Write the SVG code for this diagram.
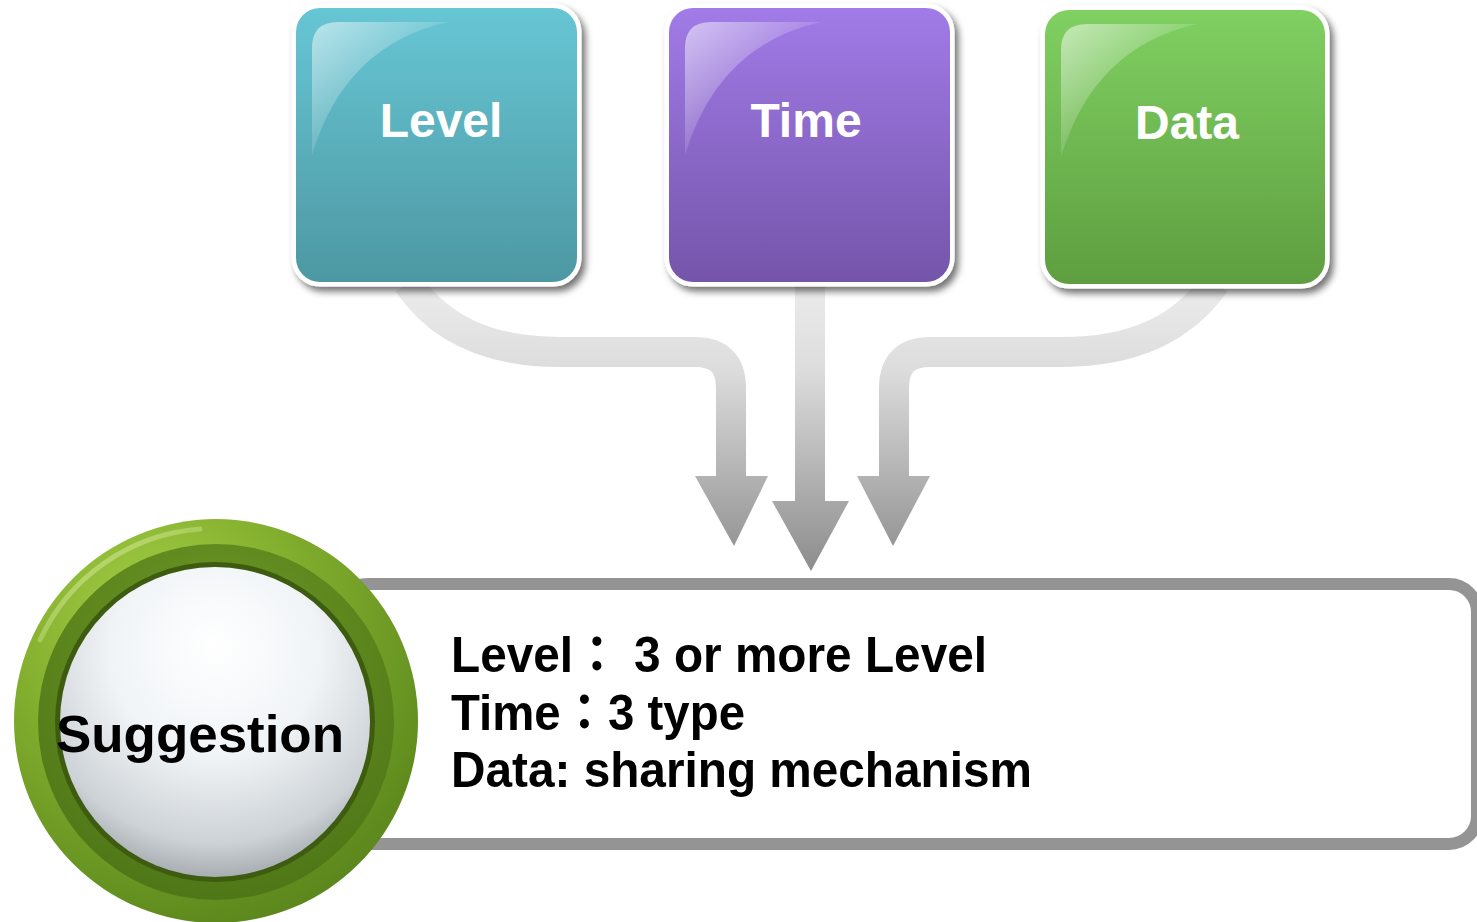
<svg xmlns="http://www.w3.org/2000/svg" width="1477" height="922" viewBox="0 0 1477 922">
<style>
.box-label{font-family:"Liberation Sans",Arial,sans-serif;font-weight:bold;font-size:48px;fill:#ffffff;text-anchor:middle}
.body{font-family:"Liberation Sans","Noto Sans CJK TC",Arial,sans-serif;font-weight:bold;font-size:50px;fill:#000000}
.shaft{fill:none;stroke:url(#arrowGrad);stroke-width:30}
.head{fill:url(#arrowGrad)}
.frame{fill:#ffffff;stroke:#ffffff;stroke-width:5;filter:url(#shadow)}
.gloss{fill:url(#glossGrad)}
</style>
<defs>
<filter id="shadow" x="-10%" y="-10%" width="130%" height="130%">
<feDropShadow dx="4" dy="5" stdDeviation="3.5" flood-color="#000" flood-opacity="0.55"/>
</filter>
<linearGradient id="arrowGrad" gradientUnits="userSpaceOnUse" x1="0" y1="285" x2="0" y2="572">
<stop offset="0" stop-color="#ececec"/>
<stop offset="0.3" stop-color="#dcdcdc"/>
<stop offset="1" stop-color="#8c8c8c"/>
</linearGradient>
<linearGradient id="gLevel" x1="0" y1="0" x2="0" y2="1">
<stop offset="0" stop-color="#67c6d4"/>
<stop offset="1" stop-color="#4d98a3"/>
</linearGradient>
<linearGradient id="gTime" x1="0" y1="0" x2="0" y2="1">
<stop offset="0" stop-color="#a17be7"/>
<stop offset="1" stop-color="#7455aa"/>
</linearGradient>
<linearGradient id="gData" x1="0" y1="0" x2="0" y2="1">
<stop offset="0" stop-color="#80d062"/>
<stop offset="1" stop-color="#5e9e40"/>
</linearGradient>
<linearGradient id="glossGrad" x1="0" y1="0" x2="1" y2="1">
<stop offset="0" stop-color="#ffffff" stop-opacity="0.55"/>
<stop offset="0.5" stop-color="#ffffff" stop-opacity="0.12"/>
<stop offset="1" stop-color="#ffffff" stop-opacity="0"/>
</linearGradient>
<radialGradient id="ringGrad" cx="0.35" cy="0.25" r="0.8">
<stop offset="0" stop-color="#a6d046"/>
<stop offset="0.5" stop-color="#7fab2c"/>
<stop offset="1" stop-color="#5a861c"/>
</radialGradient>
<radialGradient id="innerRingGrad" cx="0.5" cy="0.3" r="0.75">
<stop offset="0" stop-color="#6e9a26"/>
<stop offset="1" stop-color="#4d7416"/>
</radialGradient>
<radialGradient id="sphereGrad" cx="0.5" cy="0.3" r="0.75" fx="0.5" fy="0.25">
<stop offset="0" stop-color="#ffffff"/>
<stop offset="0.45" stop-color="#f0f4f7"/>
<stop offset="0.8" stop-color="#cdd2d6"/>
<stop offset="1" stop-color="#979da0"/>
</radialGradient>
<linearGradient id="ringHi" x1="0" y1="0" x2="1" y2="1">
<stop offset="0" stop-color="#e8f5b0" stop-opacity="0.9"/>
<stop offset="1" stop-color="#e8f5b0" stop-opacity="0"/>
</linearGradient>
</defs>

<g id="connectors">
<path class="shaft" d="M 408 283 C 440 330 490 352 560 352 L 695 352 Q 731 352 731 388 L 731 480"/>
<polygon class="head" points="695,476 768,476 734,546"/>
<path class="shaft" d="M 810 283 L 810 505"/>
<polygon class="head" points="772,501 849,501 811,571"/>
<path class="shaft" d="M 1215 283 C 1182 330 1132 352 1062 352 L 930 352 Q 894 352 894 388 L 894 480"/>
<polygon class="head" points="857,476 930,476 893,546"/>
</g>

<g id="node-level">
<rect class="frame" x="294" y="6" width="285" height="278" rx="26"/>
<rect x="296" y="8" width="281" height="274" rx="24" fill="url(#gLevel)"/>
<path class="gloss" d="M 312 155 L 312 48 Q 312 22 338 22 L 448 22 Q 345 45 312 155 Z"/>
<text class="box-label" x="441" y="137">Level</text>
</g>

<g id="node-time">
<rect class="frame" x="667" y="6" width="285" height="278" rx="26"/>
<rect x="669" y="8" width="281" height="274" rx="24" fill="url(#gTime)"/>
<path class="gloss" d="M 685 155 L 685 48 Q 685 22 711 22 L 821 22 Q 718 45 685 155 Z"/>
<text class="box-label" x="806" y="137">Time</text>
</g>

<g id="node-data">
<rect class="frame" x="1043" y="8" width="284" height="278" rx="26"/>
<rect x="1045" y="10" width="280" height="274" rx="24" fill="url(#gData)"/>
<path class="gloss" d="M 1061 157 L 1061 50 Q 1061 24 1087 24 L 1197 24 Q 1094 47 1061 157 Z"/>
<text class="box-label" x="1187" y="139">Data</text>
</g>

<g id="node-details">
<rect x="340" y="584" width="1137" height="260" rx="28" fill="#ffffff" stroke="#949494" stroke-width="12"/>
<text class="body" x="451" y="672" textLength="536" lengthAdjust="spacingAndGlyphs">Level：  3 or more Level</text>
<text class="body" x="451" y="730" textLength="294" lengthAdjust="spacingAndGlyphs">Time：3 type</text>
<text class="body" x="451" y="787" textLength="581" lengthAdjust="spacingAndGlyphs">Data: sharing mechanism</text>
</g>

<g id="node-suggestion">
<circle cx="216" cy="721" r="202" fill="url(#ringGrad)"/>
<path d="M 40 640 A 192 192 0 0 1 200 529" fill="none" stroke="url(#ringHi)" stroke-width="5" stroke-linecap="round" opacity="0.7"/>
<circle cx="216" cy="722" r="178" fill="url(#innerRingGrad)"/>
<circle cx="215" cy="722" r="160" fill="#3d5c10"/>
<circle cx="215" cy="722" r="155" fill="url(#sphereGrad)"/>
<text x="200" y="752" font-family="Liberation Sans, Arial, sans-serif" font-weight="bold" font-size="52" fill="#000" text-anchor="middle" textLength="288" lengthAdjust="spacingAndGlyphs">Suggestion</text>
</g>
</svg>
